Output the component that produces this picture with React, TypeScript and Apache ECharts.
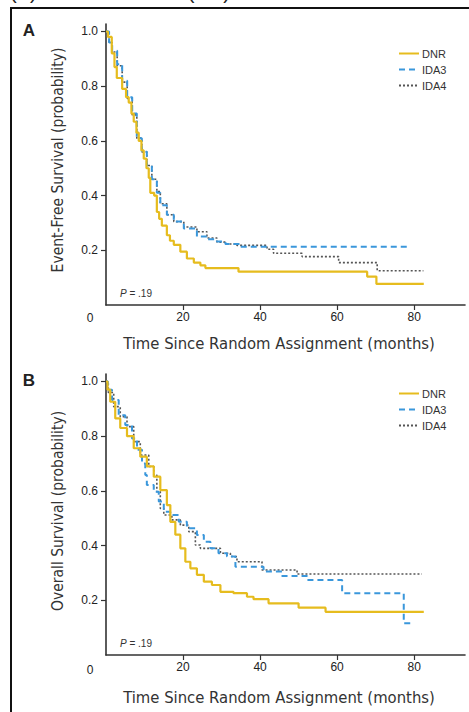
import React, { useEffect, useRef } from "react";
import * as echarts from "echarts";

const seriesNames = ["DNR", "IDA3", "IDA4"];
const xTickLabels = [20, 40, 60, 80];
const yTickLabels = [0.2, 0.4, 0.6, 0.8, 1.0];

// Panel A: Event-free survival [months, probability]
const efsDNR = [[0,1.0],[0.5,0.98],[1.5,0.92],[2.2,0.87],[2.8,0.83],[4.2,0.79],[5.2,0.76],[5.9,0.74],[6.6,0.70],[7.2,0.67],[7.9,0.63],[8.5,0.60],[9.2,0.565],[9.8,0.535],[10.5,0.50],[11.1,0.465],[11.5,0.41],[12.5,0.40],[13.2,0.34],[13.8,0.315],[14.5,0.29],[15.8,0.255],[16.6,0.235],[17.6,0.22],[19.3,0.195],[21,0.17],[22.8,0.155],[24.5,0.145],[25.8,0.135],[34.4,0.122],[67.8,0.104],[70.2,0.077],[82.5,0.077]];
const efsIDA3 = [[0,1.0],[0.8,0.96],[1.6,0.93],[2.9,0.88],[4.2,0.82],[5.5,0.76],[6.8,0.70],[8.0,0.61],[9.3,0.56],[10.6,0.51],[11.9,0.46],[13.2,0.41],[14.1,0.365],[15.8,0.33],[17.6,0.305],[20.2,0.28],[23.6,0.25],[26.2,0.24],[28.8,0.232],[31,0.223],[34.9,0.213],[79,0.213]];
const efsIDA4 = [[0,1.0],[0.8,0.96],[1.6,0.925],[2.9,0.875],[4.2,0.815],[5.5,0.755],[6.8,0.695],[8.0,0.61],[9.3,0.56],[10.6,0.51],[11.9,0.46],[13.2,0.415],[14.1,0.37],[15.8,0.33],[17.6,0.305],[20.2,0.285],[23.6,0.268],[26.2,0.245],[28.8,0.23],[31,0.223],[34,0.218],[41.8,0.204],[43.5,0.189],[50.9,0.177],[60.4,0.155],[70.4,0.125],[82.4,0.125]];

// Panel B: Overall survival [months, probability]
const osDNR = [[0,1.0],[0.4,0.97],[1.1,0.926],[2.4,0.865],[3.7,0.83],[5.45,0.80],[7.2,0.756],[8.9,0.725],[10.6,0.69],[12.4,0.652],[14.1,0.603],[15.8,0.548],[16.7,0.487],[18,0.44],[19.3,0.39],[20.6,0.341],[21.9,0.317],[23.6,0.293],[25.4,0.268],[27.5,0.256],[29.7,0.231],[33.1,0.226],[36.6,0.213],[38.3,0.204],[42.2,0.189],[50,0.173],[57,0.158],[82.5,0.158]];
const osIDA3 = [[0,1.0],[0.5,0.97],[1.56,0.932],[3.3,0.877],[5,0.841],[6.75,0.792],[8.05,0.75],[9.35,0.70],[10.2,0.658],[10.6,0.622],[12.4,0.597],[13.7,0.561],[15,0.524],[16.7,0.512],[18.9,0.487],[21,0.463],[23.6,0.439],[25.4,0.414],[27.1,0.39],[29.2,0.372],[31.4,0.36],[33.6,0.323],[40.9,0.305],[45.7,0.289],[52.2,0.274],[61.3,0.226],[77.3,0.116],[79.5,0.116]];
const osIDA4 = [[0,1.0],[0.6,0.96],[2,0.908],[3.7,0.871],[5.45,0.835],[7.2,0.78],[8.9,0.731],[11.1,0.689],[12.4,0.658],[13.2,0.597],[14.1,0.536],[15,0.512],[17.1,0.494],[19.3,0.475],[21.5,0.451],[23.2,0.402],[24.5,0.39],[29.7,0.372],[32.3,0.36],[34,0.341],[40.5,0.311],[49.6,0.296],[82,0.296]];

const COLORS = { DNR: "#E6BC1E", IDA3: "#3A97DB", IDA4: "#555555" };
const SANS = "'Liberation Sans', Arial, sans-serif";
const NARROW = "'Liberation Sans Narrow', 'DejaVu Sans Condensed', 'Liberation Sans', sans-serif";

export default function App() {
  const ref = useRef<HTMLDivElement>(null);
  useEffect(() => {
    if (!ref.current) return;
    const chart = echarts.init(ref.current, null, { renderer: "svg" });

    const lineStyles: any = {
      DNR: { color: COLORS.DNR, width: 2.2, type: "solid" },
      IDA3: { color: COLORS.IDA3, width: 2, type: [6, 4] },
      IDA4: { color: COLORS.IDA4, width: 1.6, type: [2, 2] },
    };

    const grids = [
      { left: 106, top: 24, width: 359, height: 281 },
      { left: 106, top: 374, width: 359, height: 281 },
    ];

    const axisLine = { show: true, lineStyle: { color: "#333", width: 1.6 } };

    const xAxes = [0, 1].map((i) => ({
      type: "value",
      gridIndex: i,
      min: 0,
      max: 93.2,
      interval: 20,
      splitLine: { show: false },
      axisLine,
      axisTick: { show: true, length: 5, lineStyle: { color: "#333", width: 1.2 }, customValues: xTickLabels },
      axisLabel: { customValues: xTickLabels, color: "#222", fontSize: 12, fontFamily: SANS, margin: 6 },
    }));

    const yAxes = [0, 1].map((i) => ({
      type: "value",
      gridIndex: i,
      min: 0,
      max: 1.0274,
      interval: 0.2,
      splitLine: { show: false },
      axisLine,
      axisTick: { show: true, length: 5, lineStyle: { color: "#333", width: 1.2 }, customValues: yTickLabels },
      axisLabel: {
        customValues: yTickLabels,
        color: "#222",
        fontSize: 12,
        fontFamily: SANS,
        margin: 8,
        formatter: (v: number) => v.toFixed(1),
      },
    }));

    const panelData = [
      [efsDNR, efsIDA3, efsIDA4],
      [osDNR, osIDA3, osIDA4],
    ];

    const series: any[] = [];
    panelData.forEach((sets, gi) => {
      sets.forEach((d, si) => {
        const name = seriesNames[si];
        series.push({
          type: "line",
          name,
          xAxisIndex: gi,
          yAxisIndex: gi,
          step: "end",
          data: d,
          showSymbol: false,
          symbol: "none",
          color: (COLORS as any)[name],
          lineStyle: lineStyles[name],
          z: 3 - si,
        });
      });
    });

    const legendBase = {
      orient: "vertical",
      left: 393,
      itemWidth: 20,
      itemHeight: 10,
      itemGap: 5,
      itemStyle: { opacity: 0 },
      textStyle: { fontSize: 11, color: "#333", fontFamily: SANS, padding: [0, 0, 0, -2] },
      data: seriesNames,
      selectedMode: false,
    };

    const textEl = (text: string, x: number, y: number, font: string, extra: any = {}) => ({
      type: "text",
      x,
      y,
      style: { text, font, fill: "#222", align: "center", verticalAlign: "middle", ...extra },
    });

    const yTitle = (text: string, cy: number) => ({
      type: "text",
      x: 58,
      y: cy,
      rotation: Math.PI / 2,
      style: { text, font: `15.5px ${NARROW}`, fill: "#333", align: "center", verticalAlign: "middle" },
    });

    const pText = (cy: number) => ({
      type: "text",
      x: 120,
      y: cy,
      style: {
        text: "{i|P} = .19",
        font: `10px ${SANS}`,
        fill: "#333",
        align: "left",
        verticalAlign: "middle",
        rich: { i: { fontStyle: "italic", fontSize: 10, fontFamily: SANS, fill: "#333" } },
      },
    });

    const option: any = {
      animation: false,
      backgroundColor: "#fff",
      grid: grids,
      xAxis: xAxes,
      yAxis: yAxes,
      legend: [
        { ...legendBase, top: 43 },
        { ...legendBase, top: 383 },
      ],
      series,
      graphic: [
        {
          type: "rect",
          shape: { x: 11, y: 8, width: 480, height: 720 },
          style: { fill: "none", stroke: "#111", lineWidth: 2 },
          silent: true,
        },
        textEl("(A) Overall Survival (OS)", 10, 2, `20px ${SANS}`, { align: "left", verticalAlign: "bottom" }),
        textEl("A", 29, 30, `bold 17px ${SANS}`),
        textEl("B", 29, 380, `bold 17px ${SANS}`),
        textEl("0", 90, 318, `12px ${SANS}`),
        textEl("0", 90, 670, `12px ${SANS}`),
        yTitle("Event-Free Survival (probability)", 160),
        yTitle("Overall Survival (probability)", 511),
        textEl("Time Since Random Assignment (months)", 279, 343, `16.5px ${NARROW}`, { fill: "#333" }),
        textEl("Time Since Random Assignment (months)", 279, 697, `16.5px ${NARROW}`, { fill: "#333" }),
        pText(293),
        pText(643),
      ],
    };

    chart.setOption(option);
    return () => chart.dispose();
  }, []);

  return (
    <div
      ref={ref}
      style={{ position: "absolute", left: 0, top: 0, width: 469, height: 712, background: "#fff" }}
    />
  );
}
